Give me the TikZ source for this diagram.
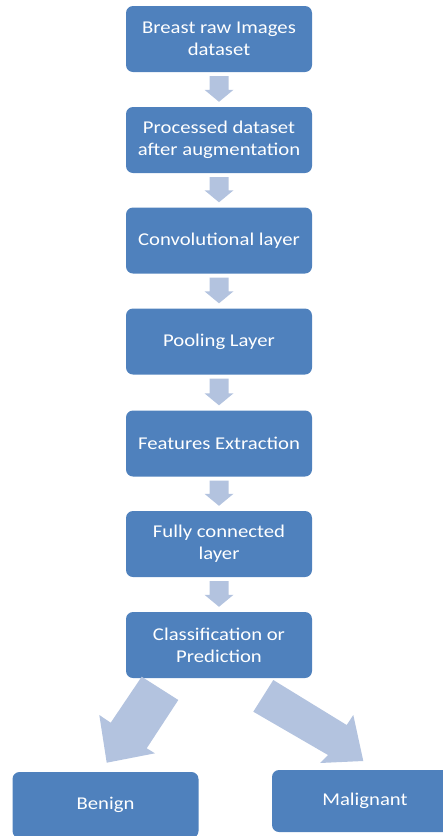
\documentclass[tikz,border=0pt]{standalone}
\usepackage{fontspec}
\setmainfont{Carlito}[FakeStretch=1.15]
\usetikzlibrary{calc}
\definecolor{boxblue}{RGB}{79,129,189}
\definecolor{arrowblue}{RGB}{179,195,223}
\tikzset{
  stepbox/.style={fill=boxblue, rounded corners=7pt, minimum width=186pt, minimum height=66pt,
    inner sep=0pt, text=white, align=center, font=\fontsize{18}{22}\selectfont},
  blockarrow/.style={fill=arrowblue}
}
\newcommand{\downarrowblock}[2]{%
  \fill[blockarrow] ($(#1.south)+(-9.5,4)$) -- ($(#1.south)+(9.5,4)$) --
    ($(#2.north)+(9.5,-17)$) -- ($(#2.north)+(14.5,-17)$) -- ($(#2.north)+(0,-5)$) --
    ($(#2.north)+(-14.5,-17)$) -- ($(#2.north)+(-9.5,-17)$) -- cycle;}
\begin{document}
\begin{tikzpicture}[x=1pt,y=-1pt]
\useasboundingbox (0,0) rectangle (443,836);
\node[stepbox] (b1) at (219,39) {Breast raw Images\\dataset};
\node[stepbox] (b2) at (219,140) {Processed dataset\\after augmentation};
\node[stepbox] (b3) at (219,240.5) {Convolutional layer};
\node[stepbox] (b4) at (219,341.5) {Pooling Layer};
\node[stepbox] (b5) at (219,443.5) {Features Extraction};
\node[stepbox] (b6) at (219,544) {Fully connected\\layer};
\node[stepbox] (b7) at (219,645) {Classification or\\Prediction};
\node[stepbox] (benign) at (105.5,805) {Benign};
\node[stepbox, minimum height=62pt] (malignant) at (365,801) {Malignant};
\downarrowblock{b1}{b2}
\downarrowblock{b2}{b3}
\downarrowblock{b3}{b4}
\downarrowblock{b4}{b5}
\downarrowblock{b5}{b6}
\downarrowblock{b6}{b7}
% diagonal block arrows
\fill[blockarrow] (141.7,676.7) -- (178.3,700) -- (146.7,748.3) -- (155,753.3) --
  (106.7,762.7) -- (99.3,715) -- (110.7,722.7) -- cycle;
\fill[blockarrow] (273.3,680) -- (346.7,725) -- (353.3,715) -- (363.3,761) --
  (320,763) -- (328,755) -- (253.3,711.7) -- cycle;
\end{tikzpicture}
\end{document}
